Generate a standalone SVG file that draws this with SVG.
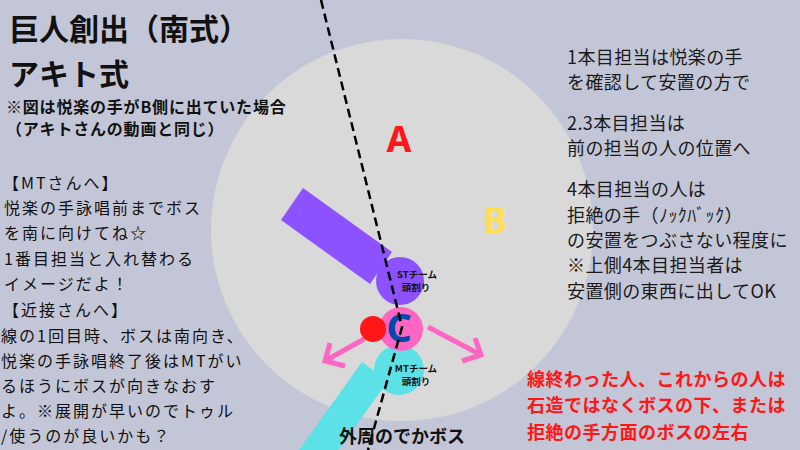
<svg xmlns="http://www.w3.org/2000/svg" width="800" height="450" viewBox="0 0 800 450">
  <style>
    text { font-family: "Noto Sans CJK JP", "Noto Sans", sans-serif; fill: #111; }
    .title { font-size: 30px; font-weight: 700; }
    .sub { font-size: 16px; font-weight: 700; letter-spacing: 0.8px; }
    .left { font-size: 16px; letter-spacing: 2px; }
    .right { font-size: 18px; letter-spacing: 0.4px; fill: #1a1a1a; }
    .red { font-size: 18px; font-weight: 700; fill: #ff1616; letter-spacing: 0.5px; }
    .small { font-size: 9.5px; font-weight: 700; text-anchor: middle; }
    .big { font-family: "Noto Sans", "Liberation Sans", sans-serif; font-weight: 700; text-anchor: middle; }
    .arrow { fill: none; stroke: #ff66c4; stroke-width: 5; stroke-linecap: butt; stroke-linejoin: miter; }
  </style>
  <rect width="800" height="450" fill="#c3c6d6"/>
  <g id="arena">
    <circle cx="402" cy="230" r="191" fill="#d9d9d9"/>
  </g>
  <g id="st-team">
    <polygon points="303,188 392,252 370,284 281,220" fill="#8c52ff"/>
    <circle cx="400" cy="281" r="24" fill="#8c52ff"/>
    <text class="small" x="417" y="278">STチーム</text>
    <text class="small" x="416" y="291">頭割り</text>
  </g>
  <g id="mt-team">
    <polygon points="362,362 388,381 272,543 246,524" fill="#5ce1e6"/>
    <circle cx="399" cy="370" r="25" fill="#5ce1e6"/>
    <text class="small" x="416" y="372">MTチーム</text>
    <text class="small" x="416" y="385">頭割り</text>
  </g>
  <g id="connectors">
    <path class="arrow" d="M364,339 L325,361 M330,343 L325,361 L345,366"/>
    <path class="arrow" d="M428,327 L481,355 M475,338 L481,355 L462,361"/>
  </g>
  <g id="boss">
    <circle cx="401" cy="329" r="22" fill="#ff66c4"/>
    <circle cx="373" cy="329" r="13" fill="#ff1616"/>
    <text class="big" x="399" y="342" font-size="40" style="fill:#004aad">C</text>
  </g>
  <g id="divider">
    <polyline points="321,0 402,327 368,450" fill="none" stroke="#000" stroke-width="2.5" stroke-dasharray="9,5"/>
  </g>
  <g id="labels">
    <text class="big" x="399" y="152" font-size="36" style="fill:#ff1616">A</text>
    <text class="big" x="495" y="233" font-size="36" style="fill:#ffde59">B</text>
    <text x="402" y="443" font-size="18" font-weight="700" text-anchor="middle">外周のでかボス</text>
  </g>
  <g id="title">
    <text class="title" x="9" y="40">巨人創出（南式）</text>
    <text class="title" x="9" y="85">アキト式</text>
    <text class="sub" x="6" y="113">※図は悦楽の手がB側に出ていた場合</text>
    <text class="sub" x="6" y="135">（アキトさんの動画と同じ）</text>
  </g>
  <g id="left-notes">
    <text class="left" x="3" y="189">【MTさんへ】</text>
    <text class="left" x="4" y="214">悦楽の手詠唱前までボス</text>
    <text class="left" x="4" y="239">を南に向けてね☆</text>
    <text class="left" x="4" y="265">1番目担当と入れ替わる</text>
    <text class="left" x="4" y="290">イメージだよ！</text>
    <text class="left" x="3" y="316">【近接さんへ】</text>
    <text class="left" x="1" y="342">線の1回目時、ボスは南向き、</text>
    <text class="left" x="1" y="367">悦楽の手詠唱終了後はMTがい</text>
    <text class="left" x="1" y="392">るほうにボスが向きなおす</text>
    <text class="left" x="1" y="417">よ。※展開が早いのでトゥル</text>
    <text class="left" x="1" y="442">/使うのが良いかも？</text>
  </g>
  <g id="right-notes">
    <text class="right" x="567" y="64">1本目担当は悦楽の手</text>
    <text class="right" x="567" y="89">を確認して安置の方で</text>
    <text class="right" x="567" y="130">2.3本目担当は</text>
    <text class="right" x="567" y="155">前の担当の人の位置へ</text>
    <text class="right" x="567" y="196">4本目担当の人は</text>
    <text class="right" x="567" y="222">拒絶の手（ﾉｯｸﾊﾞｯｸ）</text>
    <text class="right" x="567" y="247">の安置をつぶさない程度に</text>
    <text class="right" x="567" y="272">※上側4本目担当者は</text>
    <text class="right" x="567" y="298">安置側の東西に出してOK</text>
  </g>
  <g id="red-note">
    <text class="red" x="527" y="386">線終わった人、これからの人は</text>
    <text class="red" x="527" y="412">石造ではなくボスの下、または</text>
    <text class="red" x="527" y="439">拒絶の手方面のボスの左右</text>
  </g>
</svg>
